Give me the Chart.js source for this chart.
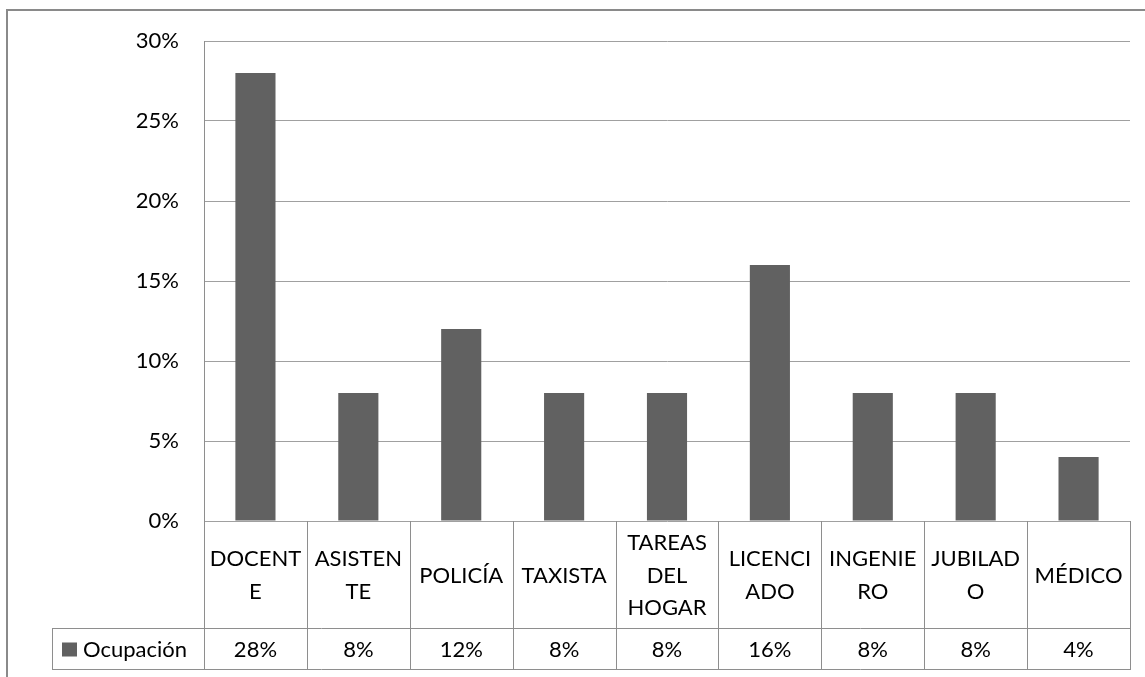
<!DOCTYPE html>
<html lang="es">

<head>
    <meta charset="UTF-8">
    <title>Ocupación</title>
    <script src="https://cdn.jsdelivr.net/npm/chart.js"></script>
    <style>
        body {
            margin: 0;
            background: #ffffff;
            overflow: hidden;
        }

        #wrap {
            width: 1145px;
            height: 677px;
        }
    </style>
</head>

<body>
    <div id="wrap">
        <canvas id="ocupacionChart"></canvas>
    </div>

    <script>
        // Data
        const categories = ["DOCENTE", "ASISTENTE", "POLICÍA", "TAXISTA", "TAREAS DEL HOGAR", "LICENCIADO", "INGENIERO", "JUBILADO", "MÉDICO"];
        // how the category names wrap inside the table cells
        const categoryLines = [
            ["DOCENT", "E"],
            ["ASISTEN", "TE"],
            ["POLICÍA"],
            ["TAXISTA"],
            ["TAREAS", "DEL", "HOGAR"],
            ["LICENCI", "ADO"],
            ["INGENIE", "RO"],
            ["JUBILAD", "O"],
            ["MÉDICO"]
        ];
        const seriesName = "Ocupación";
        const values = [28, 8, 12, 8, 8, 16, 8, 8, 4];
        const yTicks = [0, 5, 10, 15, 20, 25, 30];

        const barColor = '#616161';
        const lineColor = '#8e8e8e';
        const font = '22px Lato';

        // Outer frame of the chart object
        const framePlugin = {
            id: 'frame',
            afterDraw(chart) {
                const ctx = chart.ctx;
                ctx.save();
                ctx.strokeStyle = '#8a8a8a';
                ctx.lineWidth = 2;
                ctx.beginPath();
                ctx.moveTo(7, chart.height + 5);
                ctx.lineTo(7, 10);
                ctx.lineTo(chart.width + 5, 10);
                ctx.stroke();
                ctx.restore();
            }
        };

        // Data table under the plot (categories row + values row)
        const tablePlugin = {
            id: 'dataTable',
            afterDraw(chart) {
                const ctx = chart.ctx;
                const area = chart.chartArea;
                const x = chart.scales.x;
                const colW = x.getPixelForValue(1) - x.getPixelForValue(0);
                const row1Bottom = Math.round(area.bottom) + 107;
                const row2Bottom = row1Bottom + 41;
                const legendLeft = 52;

                ctx.save();
                ctx.strokeStyle = lineColor;
                ctx.lineWidth = 1;
                ctx.beginPath();
                // horizontal lines
                ctx.moveTo(legendLeft, row1Bottom + 0.5);
                ctx.lineTo(area.right, row1Bottom + 0.5);
                ctx.moveTo(legendLeft, row2Bottom + 0.5);
                ctx.lineTo(area.right, row2Bottom + 0.5);
                // left edge under the axis
                ctx.moveTo(Math.round(area.left) + 0.5, area.bottom);
                ctx.lineTo(Math.round(area.left) + 0.5, row2Bottom + 1);
                // legend cell left edge
                ctx.moveTo(legendLeft + 0.5, row1Bottom);
                ctx.lineTo(legendLeft + 0.5, row2Bottom + 1);
                // column separators
                categories.forEach((c, i) => {
                    const bx = Math.round(x.getPixelForValue(i) + colW / 2) + 0.5;
                    ctx.moveTo(bx, area.bottom);
                    ctx.lineTo(bx, row2Bottom + 1);
                });
                ctx.stroke();

                // texts
                ctx.fillStyle = '#000000';
                ctx.font = font;
                ctx.textAlign = 'center';
                ctx.textBaseline = 'middle';
                const row1Mid = (area.bottom + row1Bottom) / 2 + 1;
                const row2Mid = (row1Bottom + row2Bottom) / 2 + 1;
                const lh = 32.5;
                categoryLines.forEach((lines, i) => {
                    const cx = x.getPixelForValue(i);
                    const y0 = row1Mid - (lines.length - 1) * lh / 2;
                    lines.forEach((t, j) => ctx.fillText(t, cx, y0 + j * lh));
                    ctx.fillText(values[i] + '%', cx, row2Mid);
                });

                // legend key
                ctx.fillStyle = barColor;
                ctx.fillRect(62, row2Mid - 7, 15, 14);
                ctx.fillStyle = '#000000';
                ctx.textAlign = 'left';
                ctx.fillText(seriesName, 83, row2Mid);
                ctx.restore();
            }
        };

        const ctx = document.getElementById('ocupacionChart').getContext('2d');
        new Chart(ctx, {
            type: 'bar',
            data: {
                labels: categories,
                datasets: [{
                    label: seriesName,
                    data: values,
                    backgroundColor: barColor,
                    borderWidth: 0,
                    categoryPercentage: 1,
                    barPercentage: 0.39
                }]
            },
            options: {
                responsive: true,
                maintainAspectRatio: false,
                animation: false,
                layout: {
                    padding: { left: 0, top: 41, right: 15, bottom: 156 }
                },
                plugins: {
                    legend: { display: false },
                    tooltip: { enabled: false }
                },
                scales: {
                    x: {
                        display: false
                    },
                    y: {
                        min: 0,
                        max: 30,
                        afterBuildTicks(scale) {
                            scale.ticks = yTicks.map(v => ({ value: v }));
                        },
                        afterFit(scale) {
                            scale.width = 204;
                        },
                        grid: {
                            color: '#a0a0a0',
                            drawTicks: false
                        },
                        border: {
                            color: lineColor
                        },
                        ticks: {
                            padding: 25,
                            color: '#000000',
                            font: { family: 'Lato', size: 22 },
                            callback: v => v + '%'
                        }
                    }
                }
            },
            plugins: [framePlugin, tablePlugin]
        });
    </script>
</body>

</html>
